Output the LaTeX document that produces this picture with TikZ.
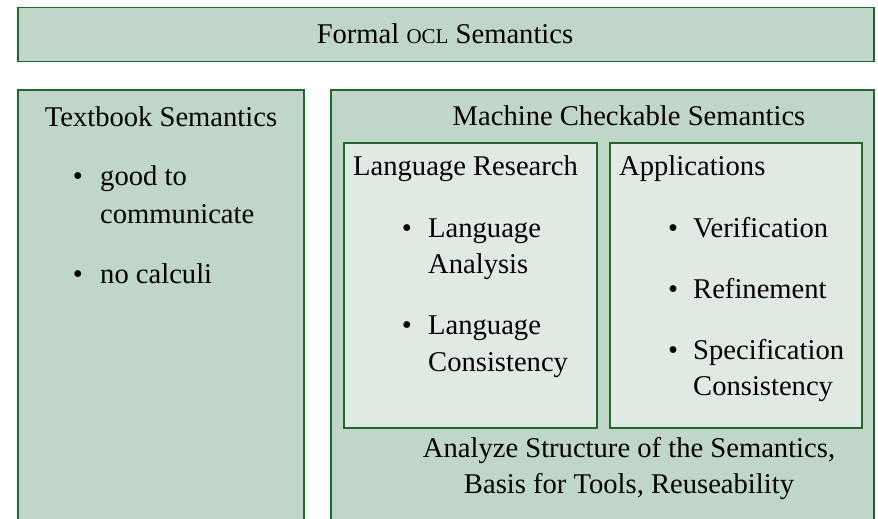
\documentclass[tikz,border=0pt]{standalone}
\usepackage{fontspec}
\setmainfont{Liberation Serif}
\definecolor{bordergreen}{RGB}{34,104,44}
\definecolor{outerfill}{RGB}{192,214,200}
\definecolor{innerfill}{RGB}{224,234,226}
\newcommand{\mysc}[1]{{\fontsize{21}{21}\selectfont #1}}
\begin{document}
\begin{tikzpicture}[x=1pt,y=-1pt,
  outerbox/.style={draw=bordergreen, fill=outerfill, line width=1.5pt, rectangle, inner sep=0pt, anchor=north west},
  innerbox/.style={draw=bordergreen, fill=innerfill, line width=1.5pt, rectangle, inner sep=0pt, anchor=north west},
  txt/.style={inner sep=0pt, font=\fontsize{28.6}{37}\selectfont, text=black},
  ctxt/.style={txt, anchor=base},
  ltxt/.style={txt, anchor=base west},
  bul/.style={txt, anchor=base}
]
\useasboundingbox (0,0) rectangle (878,519);
\clip (0,0) rectangle (878,519);
% boxes
\node[outerbox, minimum width=856pt, minimum height=54pt] (topbox) at (17,7) {};
\node[outerbox, minimum width=286pt, minimum height=460pt] (leftbox) at (17,89) {};
\node[outerbox, minimum width=543pt, minimum height=460pt] (rightbox) at (330,89) {};
\node[innerbox, minimum width=253pt, minimum height=285pt] (researchbox) at (343,142) {};
\node[innerbox, minimum width=252pt, minimum height=285pt] (appbox) at (609,142) {};
% titles
\node[ctxt] (title) at (445,44) {Formal \mysc{OCL} Semantics};
\node[ctxt] (textbook) at (161,126) {Textbook Semantics};
\node[ctxt] (machine) at (629,125) {Machine Checkable Semantics};
\node[ltxt] (research) at (353,175) {Language Research};
\node[ltxt] (apps) at (619,175) {Applications};
% left list
\node[bul] (b1) at (78,185) {\textbullet};
\node[ltxt] (good) at (100,185) {good to};
\node[ltxt] (comm) at (100,223) {communicate};
\node[bul] (b2) at (78,283) {\textbullet};
\node[ltxt] (calc) at (100,283) {no calculi};
% research list
\node[bul] (b3) at (407,237) {\textbullet};
\node[ltxt] (lang1) at (428,237) {Language};
\node[ltxt] (anal) at (428,273) {Analysis};
\node[bul] (b4) at (407,334) {\textbullet};
\node[ltxt] (lang2) at (428,334) {Language};
\node[ltxt] (cons1) at (428,371) {Consistency};
% applications list
\node[bul] (b5) at (673,237) {\textbullet};
\node[ltxt] (verif) at (693,237) {Verification};
\node[bul] (b6) at (673,298) {\textbullet};
\node[ltxt] (refin) at (693,298) {Refinement};
\node[bul] (b7) at (673,359) {\textbullet};
\node[ltxt] (spec) at (693,359) {Specification};
\node[ltxt] (cons2) at (693,395) {Consistency};
% bottom text
\node[ctxt] (analyze) at (629,457) {Analyze Structure of the Semantics,};
\node[ctxt] (basis) at (629,493) {Basis for Tools, Reuseability};
\end{tikzpicture}
\end{document}
